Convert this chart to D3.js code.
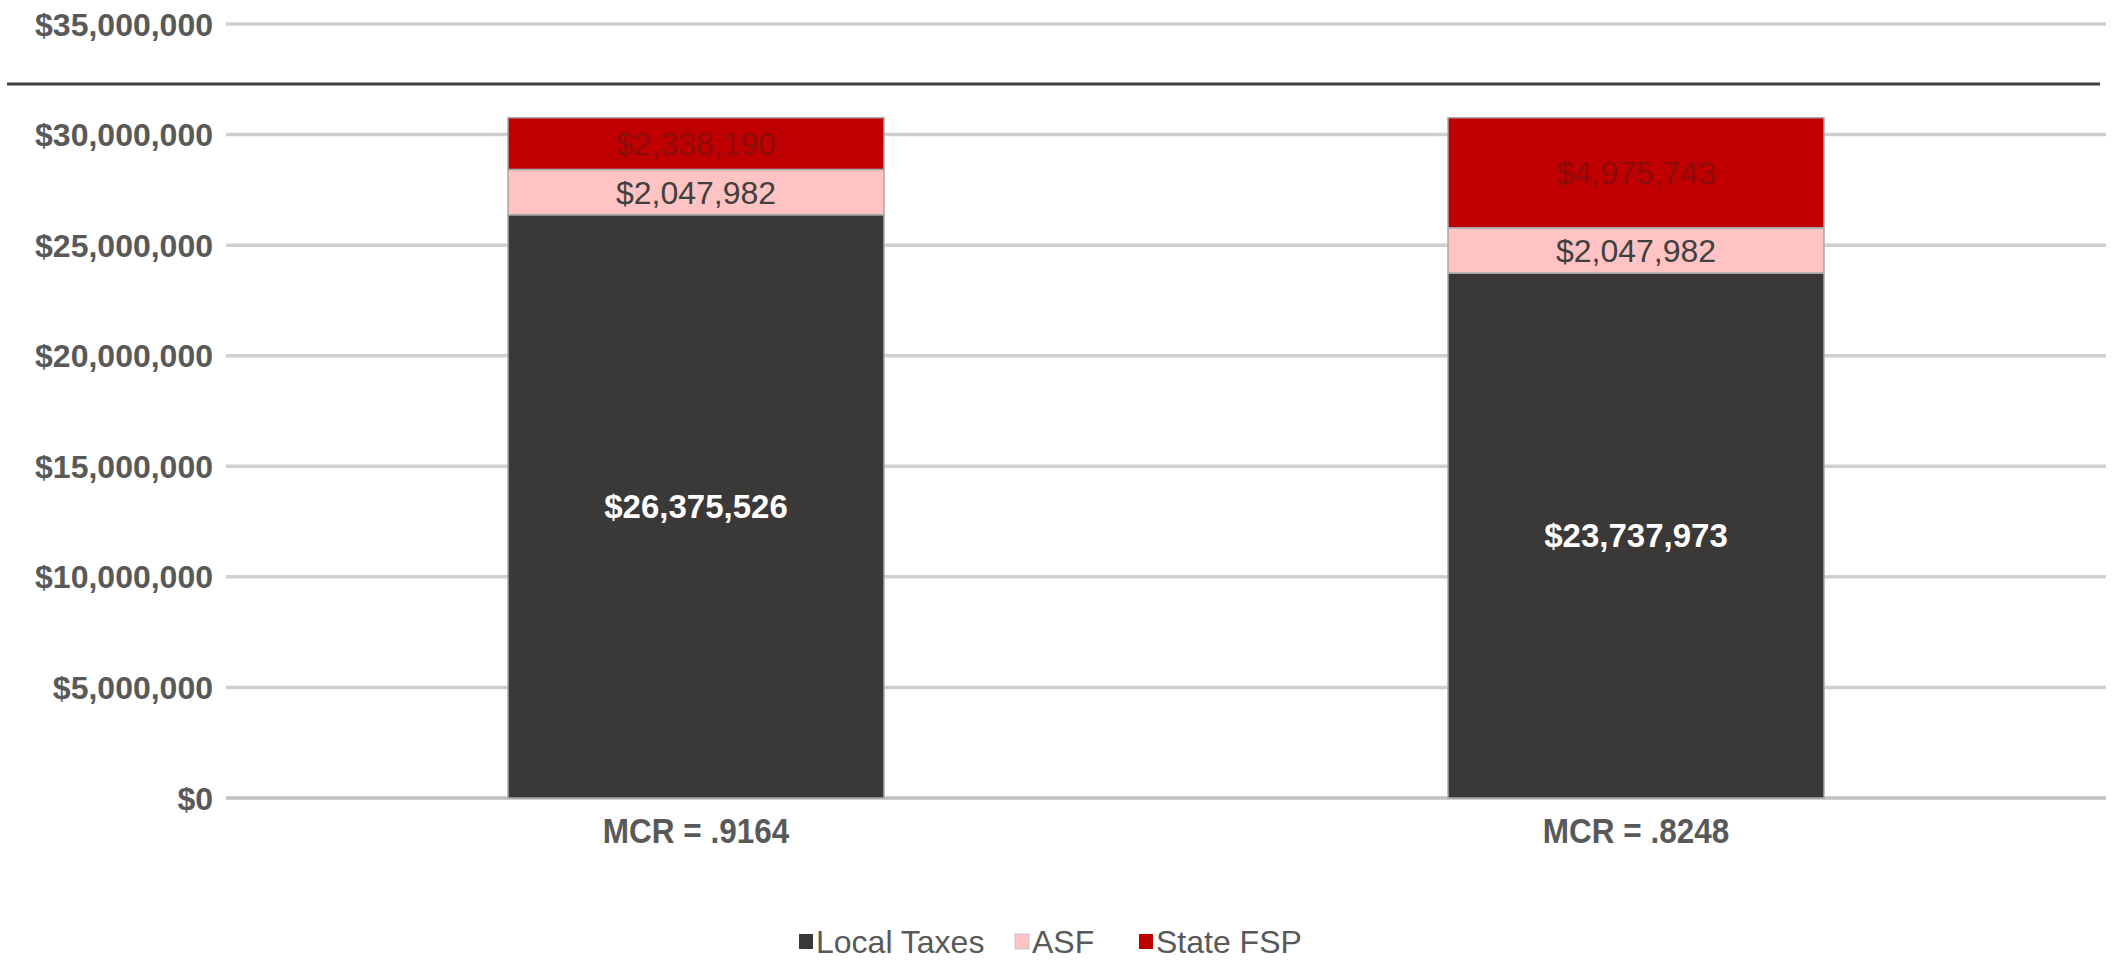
<!DOCTYPE html>
<html>
<head>
<meta charset="utf-8">
<script src="https://cdn.jsdelivr.net/npm/d3@7"></script>
<style>
  html, body { margin: 0; padding: 0; background: #ffffff; }
  svg { display: block; }
  text { font-family: "Liberation Sans", Arial, sans-serif; }
</style>
</head>
<body>
<svg id="chart" width="2113" height="961"></svg>
<script>
// ---- data ----
const categories = ["MCR = .9164", "MCR = .8248"];
const seriesNames = ["Local Taxes", "ASF", "State FSP"];
const localTaxes = [26375526, 23737973];
const asf = [2047982, 2047982];
const stateFSP = [2338190, 4975743];
const yTicks = [0, 5000000, 10000000, 15000000, 20000000, 25000000, 30000000, 35000000];

const colors = ["#3b3838", "#ffc3c3", "#c00000"];
const labelColors = ["#ffffff", "#404040", "#8c0c0c"];

const svg = d3.select("#chart");
const plot = { left: 226, right: 2106, top: 24, bottom: 798 };

const x = d3.scaleBand().domain(categories)
  .range([plot.left, plot.right]).paddingInner(0.6).paddingOuter(0.3);
const y = d3.scaleLinear().domain([0, 35000000]).range([plot.bottom, plot.top]);

const fmt = v => "$" + d3.format(",")(v);

// gridlines
svg.append("g").selectAll("line").data(yTicks).join("line")
  .attr("x1", plot.left).attr("x2", plot.right)
  .attr("y1", d => y(d)).attr("y2", d => y(d))
  .attr("stroke", d => d === 0 ? "#bfbfbf" : "#cfcfcf")
  .attr("stroke-width", 3.5);

// y-axis labels
svg.append("g").selectAll("text").data(yTicks).join("text")
  .attr("x", 213).attr("y", d => y(d))
  .attr("text-anchor", "end").attr("dy", "0.36em")
  .attr("font-size", 32).attr("font-weight", "bold").attr("fill", "#595959")
  .text(d => fmt(d));

// decorative dark horizontal line
svg.append("line").attr("x1", 7).attr("x2", 2100).attr("y1", 84).attr("y2", 84)
  .attr("stroke", "#3f3f3f").attr("stroke-width", 3);

// stacked data
const rows = categories.map((c, i) => ({ cat: c, "Local Taxes": localTaxes[i], "ASF": asf[i], "State FSP": stateFSP[i] }));
const stacked = d3.stack().keys(seriesNames)(rows);

const layers = svg.append("g").selectAll("g").data(stacked).join("g")
  .attr("fill", (d, i) => colors[i]);
layers.selectAll("rect").data(d => d).join("rect")
  .attr("x", d => x(d.data.cat))
  .attr("width", x.bandwidth())
  .attr("y", d => y(d[1]))
  .attr("height", d => y(d[0]) - y(d[1]))
  .attr("stroke", "#a8a8a8").attr("stroke-width", 1.5);

// data labels
stacked.forEach((layer, si) => {
  layer.forEach(d => {
    const cx = x(d.data.cat) + x.bandwidth() / 2;
    const cy = (y(d[0]) + y(d[1])) / 2;
    const v = d[1] - d[0];
    svg.append("text")
      .attr("x", cx).attr("y", cy)
      .attr("text-anchor", "middle").attr("dy", "0.36em")
      .attr("font-size", si === 0 ? 33 : 32)
      .attr("font-weight", si === 0 ? "bold" : "normal")
      .attr("fill", labelColors[si])
      .text(fmt(v));
  });
});

// x labels
svg.append("g").selectAll("g").data(categories).join("g")
  .attr("transform", d => `translate(${x(d) + x.bandwidth() / 2},830) scale(0.9,1)`)
  .append("text")
  .attr("text-anchor", "middle").attr("dy", "0.36em")
  .attr("font-size", 35).attr("font-weight", "bold").attr("fill", "#595959")
  .text(d => d);

// legend (layout positions)
const legendX = [799, 1015, 1139];
const ly = 941;
const legend = svg.append("g");
seriesNames.forEach((name, i) => {
  legend.append("rect").attr("x", legendX[i]).attr("y", ly - 7).attr("width", 14).attr("height", 15)
    .attr("fill", colors[i]).attr("stroke", i === 1 ? "#c8c8c8" : "none").attr("stroke-width", 1);
  legend.append("text").attr("x", legendX[i] + 17).attr("y", ly).attr("dy", "0.36em")
    .attr("font-size", 32).attr("fill", "#595959").text(name);
});
</script>
</body>
</html>
